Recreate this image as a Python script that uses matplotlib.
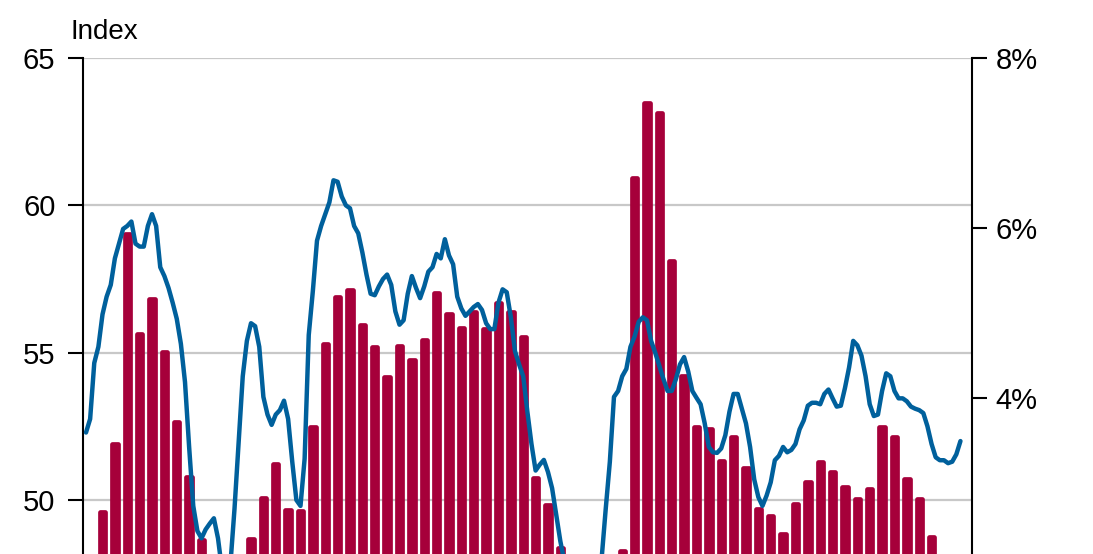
import numpy as np
from matplotlib import pyplot as plt

# monthly index (left axis)
index_vals = [
    52.29, 52.75, 54.65, 55.2, 56.3, 56.9, 57.3, 58.2, 58.7, 59.2,
    59.3, 59.45, 58.7, 58.6, 58.6, 59.3, 59.7, 59.3, 57.9, 57.6,
    57.2, 56.7, 56.15, 55.3, 54.0, 51.8, 49.8, 48.95, 48.7, 49.0,
    49.2, 49.38, 48.7, 47.6, 47.0, 47.8, 49.7, 51.95, 54.2, 55.4,
    56.0, 55.9, 55.2, 53.5, 52.9, 52.55, 52.9, 53.05, 53.37, 52.75,
    51.3, 50.0, 49.8, 51.4, 55.6, 57.1, 58.8, 59.3, 59.7, 60.1,
    60.85, 60.8, 60.3, 60.0, 59.9, 59.3, 59.05, 58.4, 57.65, 57.0,
    56.95, 57.25, 57.5, 57.65, 57.3, 56.4, 55.95, 56.1, 57.0, 57.6,
    57.2, 56.85, 57.25, 57.75, 57.9, 58.35, 58.2, 58.85, 58.3, 58.0,
    56.9, 56.5, 56.25, 56.4, 56.55, 56.65, 56.45, 56.0, 55.8, 55.8,
    56.7, 57.15, 57.05, 56.2, 55.05, 54.6, 54.2, 53.0, 51.9, 51.0,
    51.2, 51.36, 50.95, 50.4, 49.5, 48.6, 47.9, 47.2, 46.6, 46.2,
    46.0, 45.9, 46.1, 46.6, 47.3, 48.0, 49.7, 51.3, 53.5, 53.7,
    54.2, 54.45, 55.2, 55.55, 56.05, 56.2, 56.1, 55.4, 55.0, 54.55,
    54.1, 53.7, 53.7, 54.1, 54.6, 54.85, 54.36, 53.7, 53.47, 53.25,
    52.6, 51.8, 51.62, 51.6, 51.75, 52.2, 53.0, 53.6, 53.6, 53.1,
    52.6, 51.8, 50.7, 50.1, 49.8, 50.15, 50.6, 51.35, 51.5, 51.8,
    51.62, 51.7, 51.9, 52.4, 52.7, 53.2, 53.3, 53.3, 53.25, 53.6,
    53.75, 53.45, 53.17, 53.2, 53.8, 54.5, 55.4, 55.25, 54.9, 54.2,
    53.25, 52.85, 52.9, 53.7, 54.3, 54.2, 53.7, 53.45, 53.45, 53.35,
    53.17, 53.1, 53.05, 52.95, 52.5, 51.9, 51.45, 51.35, 51.35, 51.25,
    51.3, 51.55, 52.0,
]

# quarterly growth, % (right axis)
growth_vals = [
    2.66, 3.46, 5.93, 4.75, 5.16, 4.54, 3.72, 3.07, 2.33,
    2.0, 1.7, 1.9,
    2.34, 2.82, 3.22, 2.68, 2.67, 3.66, 4.64, 5.19, 5.27,
    4.86, 4.60, 4.25, 4.61, 4.45, 4.68, 5.24, 4.99, 4.82, 5.01,
    4.81, 5.12, 5.01, 4.72, 3.06, 2.74, 2.24,
    1.9, 1.5, 1.3, 1.6,
    2.20, 6.59, 7.47, 7.35, 5.61, 4.26, 3.66, 3.64, 3.26, 3.54, 3.18,
    2.69, 2.61, 2.40, 2.75, 3.01, 3.25, 3.13, 2.95, 2.81, 2.93,
    3.66, 3.54, 3.05, 2.81, 2.36,
]

left_ticks = [50, 55, 60, 65]
right_ticks = [4, 6, 8]
right_labels = ['4%', '6%', '8%']

plt.rcParams['font.family'] = ['Liberation Sans', 'DejaVu Sans']

fig = plt.figure(figsize=(10.93, 5.54), dpi=100)
ax = fig.add_axes([83 / 1093, 0, (972 - 83) / 1093, 1 - 58 / 554])
ax2 = ax.twinx()
ax3 = ax.twinx()

months = np.arange(len(index_vals))
bar_months = 4 + 3 * np.arange(len(growth_vals))

# left axis: grid + ticks
ax.set_xlim(-0.73, 214.8)
ax.set_ylim(48.168, 65)
ax.set_yticks(left_ticks)
ax.yaxis.grid(True, color='#c8c8c8', linewidth=1.6)
ax.tick_params(axis='y', length=10.8, width=1.5, labelsize=21, pad=9)
ax.tick_params(axis='x', bottom=False, labelbottom=False)
for s in ['top', 'right', 'bottom']:
    ax.spines[s].set_visible(False)
ax.spines['left'].set_linewidth(1.5)

# bars on right axis (thick edge + round join gives the rounded tops)
ax2.bar(bar_months, growth_vals, width=1.3, color='#a6003a', edgecolor='#a6003a',
        linewidth=3.4, joinstyle='round')
ax2.set_ylim(2.165, 8)
ax2.set_yticks(right_ticks)
ax2.set_yticklabels(right_labels)
ax2.tick_params(axis='y', length=10.8, width=1.5, labelsize=21, pad=6)
for s in ['top', 'left', 'bottom']:
    ax2.spines[s].set_visible(False)
ax2.spines['right'].set_linewidth(1.5)

# index line on top
ax3.plot(months, index_vals, color='#00609c', lw=3.2, solid_joinstyle='round',
         solid_capstyle='round')
ax3.set_ylim(ax.get_ylim())
ax3.set_axis_off()

fig.text(70.7 / 1093, 1 - 39 / 554, 'Index', fontsize=20, va='baseline')

fig.savefig('out.png', dpi=100)
